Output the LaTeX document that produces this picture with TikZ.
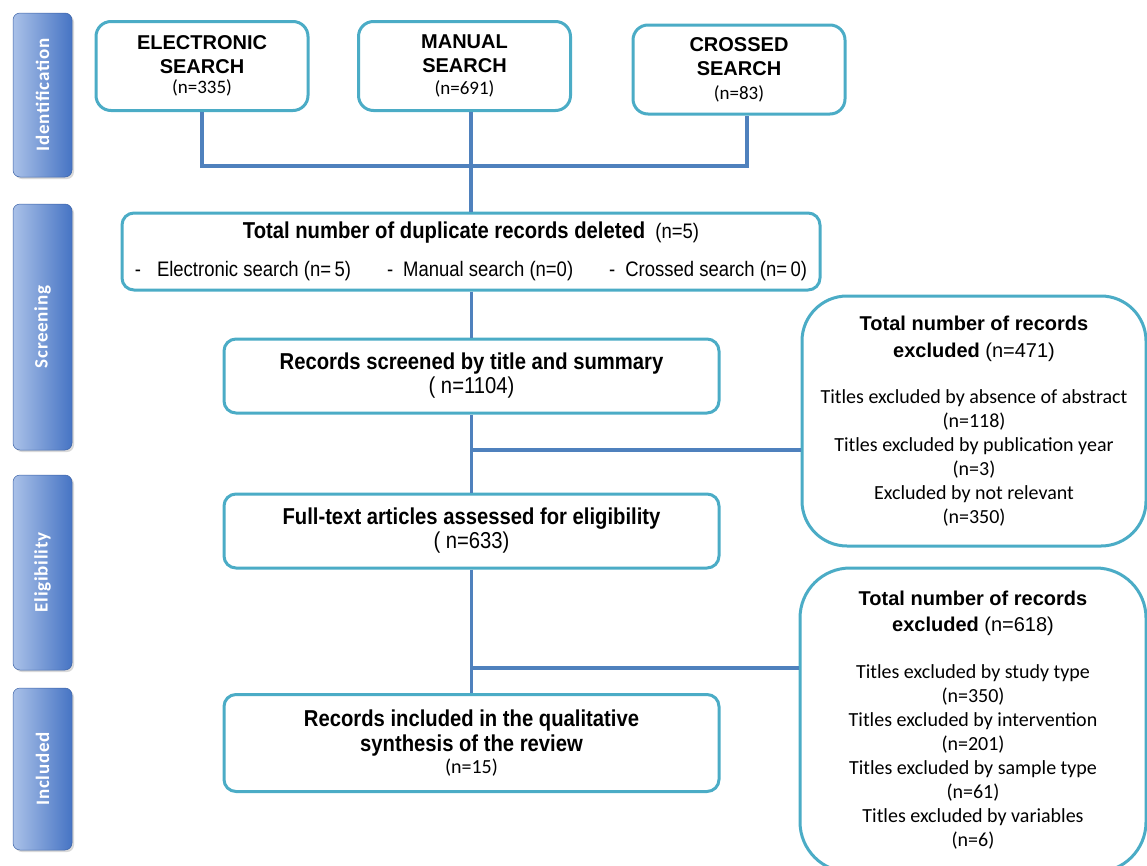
\documentclass[tikz,border=0pt]{standalone}
\usepackage{fontspec}
\setmainfont{Liberation Sans}
\newfontfamily\narrowsans[FakeStretch=0.88]{Liberation Sans}
\newfontfamily\calib{Carlito}
\newfontfamily\calibsp[LetterSpace=4]{Carlito}
\usetikzlibrary{shadows}
\definecolor{boxteal}{RGB}{75,172,198}
\definecolor{linkblue}{RGB}{79,129,189}
\definecolor{sidelight}{RGB}{170,193,232}
\definecolor{sidedark}{RGB}{70,116,196}
\begin{document}
\begin{tikzpicture}[x=1pt,y=-1pt,
  box/.style={draw=boxteal, line width=3pt, fill=white, rounded corners=12pt, inner sep=0pt, align=center},
  bigbox/.style={box, rounded corners=45pt},
  link/.style={draw=linkblue, line width=3.3pt},
  side/.style={rotate=90, rounded corners=7pt, left color=sidelight, right color=sidedark,
    draw=sidedark!85!black, line width=0.5pt, text=white, inner sep=0pt,
    font=\calibsp\bfseries\fontsize{19}{22}\selectfont,
    drop shadow={shadow xshift=2pt, shadow yshift=-2pt, opacity=0.3}},
  srch/.style={box, rounded corners=15pt, minimum width=212pt, minimum height=89pt,
    font=\bfseries\fontsize{20}{24}\selectfont}
]
\useasboundingbox (0,0) rectangle (1147,865);
\clip (0,0) rectangle (1147,865);

% side bars
\node[side, minimum width=164pt, minimum height=59pt] (sId) at (42.5,95) {Identification};
\node[side, minimum width=246pt, minimum height=59pt] (sSc) at (42.5,327) {Screening};
\node[side, minimum width=195pt, minimum height=59pt] (sEl) at (42.5,572.5) {Eligibility};
\node[side, minimum width=162pt, minimum height=59pt] (sIn) at (42.5,769) {Included};

% search boxes
\node[srch] (elec) at (202,66) {ELECTRONIC\\SEARCH\\[-4pt]{\mdseries\calib\fontsize{19}{20}\selectfont (n=335)}};
\node[srch] (manual) at (464.5,66) {MANUAL\\SEARCH\\[-2pt]{\mdseries\calib\fontsize{19}{20}\selectfont (n=691)}};
\node[srch] (cross) at (739,69.5) {CROSSED\\SEARCH\\[0pt]{\mdseries\calib\fontsize{19}{20}\selectfont (n=83)}};

% duplicates
\node[box, minimum width=698pt, minimum height=77pt, font=\narrowsans\fontsize{21}{38}\selectfont] (dup) at (471,251.5)
  {{\bfseries\fontsize{23}{38}\selectfont Total number of duplicate records deleted}\ \ (n=5)\\
   -\hspace{16pt}Electronic search (n=\,5)\hspace{36pt}-\hspace{10pt}Manual\ search (n=0)\hspace{36pt}-\hspace{10pt}Crossed search (n=\,0)};

% main flow boxes
\node[box, minimum width=495pt, minimum height=74pt, font=\narrowsans\fontsize{23}{24}\selectfont] (rec) at (471.5,376)
  {{\bfseries Records screened by title and summary}\\( n=1104)};
\node[box, minimum width=495pt, minimum height=74pt, font=\narrowsans\fontsize{23}{24}\selectfont] (full) at (471.5,531)
  {{\bfseries Full-text articles assessed for eligibility}\\( n=633)};
\node[box, minimum width=495pt, minimum height=97pt, font=\narrowsans\bfseries\fontsize{23}{25}\selectfont] (incl) at (471.5,743)
  {Records included in the qualitative\\synthesis of the review\\[-3pt]{\mdseries\calib\fontsize{20}{22}\selectfont (n=15)}};

% excluded boxes
\node[bigbox, minimum width=344pt, minimum height=250pt, font=\fontsize{20}{24}\selectfont] (ex1) at (974,421)
  {{\bfseries Total number of records}\\[3pt]{\bfseries excluded} (n=471)\\[22pt]
   {\calib Titles excluded by absence of abstract}\\{\calib (n=118)}\\
   {\calib Titles excluded by publication year}\\{\calib (n=3)}\\
   {\calib Excluded by not relevant}\\{\calib (n=350)}};
\node[bigbox, rounded corners=50pt, minimum width=346pt, minimum height=304pt, font=\fontsize{20}{24}\selectfont] (ex2) at (973,720)
  {{\bfseries Total number of records}\\[2pt]{\bfseries excluded} (n=618)\\[23pt]
   {\calib Titles excluded by study type}\\{\calib (n=350)}\\
   {\calib Titles excluded by intervention}\\{\calib (n=201)}\\
   {\calib Titles excluded by sample type}\\{\calib (n=61)}\\
   {\calib Titles excluded by variables}\\{\calib (n=6)}};

% connectors
\coordinate (j) at (472,166);
\coordinate (crx) at ([xshift=8pt]cross.south);
\coordinate (b1) at (472,450);
\coordinate (b2) at (472,668);
\draw[link] (elec.south) |- (j) -| (crx);
\draw[link] (manual.south -| dup.north) -- (dup.north);
\draw[link] (dup.south -| rec.north) -- (rec.north);
\draw[link] (rec.south) -- (full.north);
\draw[link] (b1) -- (b1 -| ex1.west);
\draw[link] (full.south) -- (incl.north);
\draw[link] (b2) -- (b2 -| ex2.west);
\end{tikzpicture}
\end{document}
